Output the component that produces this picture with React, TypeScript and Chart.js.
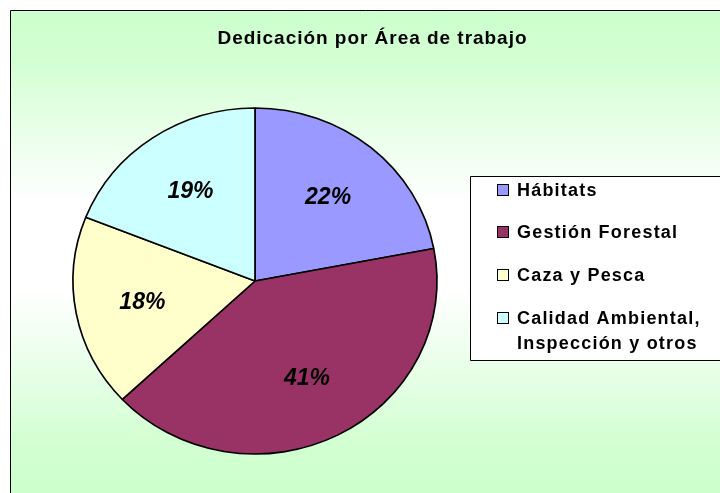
import React, { useEffect, useRef } from "react";
import { Chart, registerables } from "chart.js";

Chart.register(...registerables);

const title = "Dedicación por Área de trabajo";
const categories = ["Hábitats", "Gestión Forestal", "Caza y Pesca", "Calidad Ambiental, Inspección y otros"];
const legendLines = [["Hábitats"], ["Gestión Forestal"], ["Caza y Pesca"], ["Calidad Ambiental,", "Inspección y otros"]];
const values = [22, 41, 18, 19];
const colors = ["#9999FF", "#993366", "#FFFFCC", "#CCFFFF"];

const FONT = '"Liberation Sans", Arial, Helvetica, sans-serif';
const X_STRETCH = 1.052;

const framePlugin = {
  id: "frame",
  beforeDraw(chart: any) {
    const ctx = chart.ctx as CanvasRenderingContext2D;
    const W = chart.width, H = chart.height;
    ctx.save();
    ctx.fillStyle = "#FFFFFF";
    ctx.fillRect(0, 0, W, H);
    const g = ctx.createLinearGradient(0, 10, 0, 493);
    g.addColorStop(0, "#CCFFCC");
    g.addColorStop(0.1, "#D2FFD2");
    g.addColorStop(0.4, "#FFFFFF");
    g.addColorStop(0.58, "#FFFFFF");
    g.addColorStop(0.9, "#D2FFD2");
    g.addColorStop(1, "#CCFFCC");
    ctx.fillStyle = g;
    ctx.fillRect(10, 10, W, H);
    ctx.strokeStyle = "#000000";
    ctx.lineWidth = 1;
    ctx.beginPath();
    ctx.moveTo(10.5, H + 5);
    ctx.lineTo(10.5, 10.5);
    ctx.lineTo(W + 5, 10.5);
    ctx.stroke();
    ctx.restore();
  },
  beforeDatasetsDraw(chart: any) {
    const ctx = chart.ctx as CanvasRenderingContext2D;
    const arc = chart.getDatasetMeta(0).data[0];
    const cx = arc.x, cy = arc.y;
    ctx.save();
    ctx.translate(cx, cy);
    ctx.scale(X_STRETCH, 1);
    ctx.translate(-cx, -cy);
  },
  afterDatasetsDraw(chart: any) {
    const ctx = chart.ctx as CanvasRenderingContext2D;
    ctx.restore();
    const meta = chart.getDatasetMeta(0);
    const total = values.reduce((a, b) => a + b, 0);
    ctx.save();
    ctx.font = `italic bold 23px ${FONT}`;
    ctx.fillStyle = "#000000";
    ctx.textAlign = "center";
    ctx.textBaseline = "middle";
    meta.data.forEach((el: any, i: number) => {
      const p = el.getProps(["x", "y", "startAngle", "endAngle", "outerRadius"], true);
      const mid = (p.startAngle + p.endAngle) / 2;
      const r = p.outerRadius * 0.63;
      const x = p.x + Math.cos(mid) * r * X_STRETCH;
      const y = p.y + Math.sin(mid) * r;
      ctx.fillText(Math.round((values[i] / total) * 100) + "%", x, y + 1);
    });
    ctx.restore();
  },
  afterDraw(chart: any) {
    const ctx = chart.ctx as CanvasRenderingContext2D;
    const W = chart.width;
    ctx.save();
    // Title
    ctx.font = `bold 19px ${FONT}`;
    ctx.fillStyle = "#000000";
    ctx.textBaseline = "middle";
    ctx.textAlign = "left";
    (ctx as any).letterSpacing = "0px";
    const w0 = ctx.measureText(title).width;
    const target = 309;
    const sp = Math.max(0, (target - w0) / (title.length - 1));
    (ctx as any).letterSpacing = sp + "px";
    ctx.fillText(title, 372 - target / 2, 39);

    // Legend box
    ctx.fillStyle = "#FFFFFF";
    ctx.fillRect(470, 176, W, 184);
    ctx.strokeStyle = "#000000";
    ctx.lineWidth = 1;
    ctx.beginPath();
    ctx.moveTo(W + 5, 176.5);
    ctx.lineTo(470.5, 176.5);
    ctx.lineTo(470.5, 360.5);
    ctx.lineTo(W + 5, 360.5);
    ctx.stroke();

    const rowY = [190, 232, 275, 318];
    ctx.font = `bold 18px ${FONT}`;
    (ctx as any).letterSpacing = "1.2px";
    ctx.textBaseline = "middle";
    legendLines.forEach((lines, i) => {
      const y = rowY[i];
      ctx.fillStyle = colors[i];
      ctx.fillRect(497.5, y - 5.5, 11, 11);
      ctx.strokeStyle = "#000000";
      ctx.lineWidth = 1;
      ctx.strokeRect(497.5, y - 5.5, 11, 11);
      ctx.fillStyle = "#000000";
      lines.forEach((ln, j) => {
        ctx.fillText(ln, 517, y + 1 + j * 25);
      });
    });
    ctx.restore();
  },
};

export default function App() {
  const ref = useRef<HTMLCanvasElement | null>(null);
  useEffect(() => {
    if (!ref.current) return;
    const chart = new Chart(ref.current, {
      type: "pie",
      data: {
        labels: categories,
        datasets: [
          {
            data: values,
            backgroundColor: colors,
            borderColor: "#000000",
            borderWidth: 1.6,
            hoverOffset: 0,
          },
        ],
      },
      options: {
        responsive: false,
        animation: false,
        radius: 173,
        layout: { padding: { left: 0, right: 210, top: 69, bottom: 0 } },
        plugins: {
          legend: { display: false },
          title: { display: false },
          tooltip: { enabled: false },
        },
        events: [],
      } as any,
      plugins: [framePlugin],
    });
    return () => chart.destroy();
  }, []);
  return (
    <canvas
      ref={ref}
      width={720}
      height={493}
      style={{ position: "fixed", left: 0, top: 0, display: "block", width: 720, height: 493 }}
    />
  );
}
